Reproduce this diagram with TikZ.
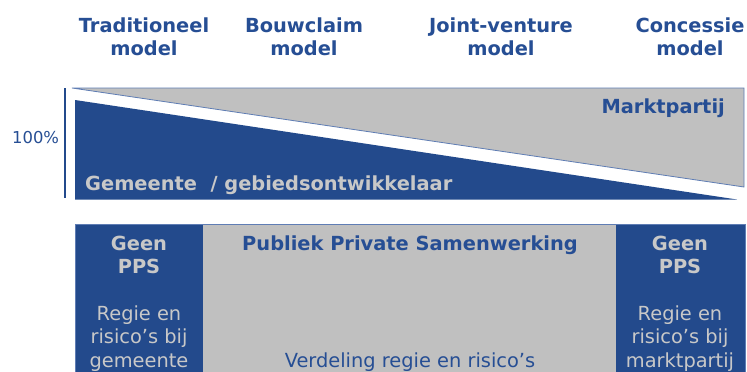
\documentclass[tikz,border=0pt]{standalone}
\usepackage{fontspec}
\setmainfont{DejaVu Sans}
\definecolor{pblue}{RGB}{35,74,140}
\definecolor{tblue}{RGB}{38,78,148}
\definecolor{pgray}{RGB}{192,192,192}
\definecolor{ltext}{RGB}{200,200,200}
\definecolor{pborder}{RGB}{95,125,180}
\tikzset{
  bold/.style={anchor=base, inner sep=0pt, font=\fontsize{19.4}{23}\selectfont\bfseries},
  reg/.style={anchor=base, inner sep=0pt, font=\fontsize{19.4}{23}\selectfont},
  hdr/.style={bold, text=tblue},
}
\begin{document}
\begin{tikzpicture}[x=1pt,y=-1pt]
\useasboundingbox (0,0) rectangle (747,372);
\fill[white] (0,0) rectangle (747,372);
% headers
\node[hdr] (h1a) at (144,32) {Traditioneel};
\node[hdr] (h1b) at (144,55) {model};
\node[hdr] (h2a) at (304,32) {Bouwclaim};
\node[hdr] (h2b) at (304,55) {model};
\node[hdr] (h3a) at (501,32) {Joint-venture};
\node[hdr] (h3b) at (501,55) {model};
\node[hdr] (h4a) at (690,32) {Concessie};
\node[hdr] (h4b) at (690,55) {model};
% top chart
\filldraw[fill=pgray, draw=pborder, line width=0.8pt] (72,88) -- (744,88) -- (744,187) -- cycle;
\fill[pblue] (75,100) -- (737,199.5) -- (75,199.5) -- cycle;
\draw[pblue, line width=1.3pt] (65,88) -- (65,198);
\node[reg, anchor=base west, text=tblue, font=\fontsize{16.4}{20}\selectfont] (pct) at (12,143) {100\%};
\node[bold, anchor=base east, text=tblue] (mp) at (725,113) {Marktpartij};
\node[bold, anchor=base west, text=ltext] (gem) at (85,190) {Gemeente \ / gebiedsontwikkelaar};
% bottom table
\fill[pblue] (75,224) rectangle (203,380);
\fill[pgray] (203,224) rectangle (616,380);
\fill[pblue] (616,224) rectangle (745,380);
\draw[pborder, line width=0.8pt] (75,380) -- (75,224) -- (745,224) -- (745,380);
% left column
\node[bold, text=ltext] (l1) at (139,250) {Geen};
\node[bold, text=ltext] (l2) at (139,273) {PPS};
\node[reg, text=ltext] (l3) at (139,320) {Regie en};
\node[reg, text=ltext] (l4) at (139,343) {risico’s bij};
\node[reg, text=ltext] (l5) at (139,367) {gemeente};
% middle
\node[bold, text=tblue] (m1) at (410,250) {Publiek Private Samenwerking};
\node[reg, text=tblue] (m2) at (410,367) {Verdeling regie en risico’s};
% right column
\node[bold, text=ltext] (r1) at (680,250) {Geen};
\node[bold, text=ltext] (r2) at (680,273) {PPS};
\node[reg, text=ltext] (r3) at (680,320) {Regie en};
\node[reg, text=ltext] (r4) at (680,343) {risico’s bij};
\node[reg, text=ltext] (r5) at (680,367) {marktpartij};
\end{tikzpicture}
\end{document}
